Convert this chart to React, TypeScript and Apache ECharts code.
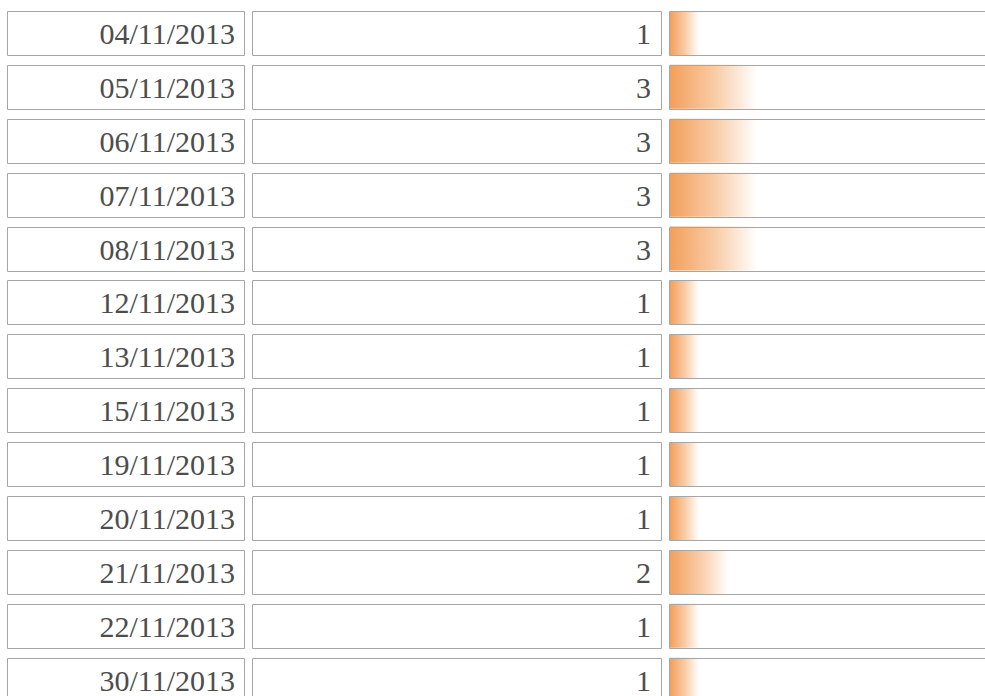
import React, { useEffect, useRef } from "react";
import * as echarts from "echarts";

const dates = [
  "04/11/2013",
  "05/11/2013",
  "06/11/2013",
  "07/11/2013",
  "08/11/2013",
  "12/11/2013",
  "13/11/2013",
  "15/11/2013",
  "19/11/2013",
  "20/11/2013",
  "21/11/2013",
  "22/11/2013",
  "30/11/2013",
];
const counts = [1, 3, 3, 3, 3, 1, 1, 1, 1, 1, 2, 1, 1];

const BORDER = "#a6a6a6";
const TEXT = "#4d4d4d";
const FONT = "'Liberation Serif', 'Times New Roman', serif";

export default function App() {
  const ref = useRef<HTMLDivElement>(null);
  useEffect(() => {
    if (!ref.current) return;
    const chart = echarts.init(ref.current, undefined, { renderer: "svg" });
    const option: any = {
      animation: false,
      backgroundColor: "#ffffff",
      grid: { left: 670, top: 6, width: 330, height: 700.7, containLabel: false },
      xAxis: { type: "value", min: 0, max: 11, show: false },
      yAxis: {
        type: "category",
        data: dates,
        inverse: true,
        show: false,
      },
      series: [
        {
          type: "bar",
          data: counts,
          barWidth: 44,
          z: 1,
          itemStyle: {
            color: {
              type: "linear",
              x: 0,
              y: 0,
              x2: 1,
              y2: 0,
              colorStops: [
                { offset: 0, color: "#f39f5a" },
                { offset: 0.5, color: "#f9cca6" },
                { offset: 0.97, color: "#ffffff" },
                { offset: 1, color: "#ffffff" },
              ],
            },
          },
        },
        {
          type: "custom",
          clip: false,
          z: 5,
          data: dates.map((d, i) => [0, i, d, counts[i]]),
          encode: { x: 0, y: 1 },
          renderItem: (params: any, api: any) => {
            const idx = params.dataIndex;
            const cy = api.coord([0, idx])[1];
            const top = Math.round(cy - 22) + 0.5;
            const h = 44;
            const mid = top + h / 2;
            const stroke = { stroke: BORDER, lineWidth: 1 };
            return {
              type: "group",
              children: [
                {
                  type: "rect",
                  shape: { x: 7.5, y: top, width: 237, height: h },
                  style: { fill: "#ffffff", ...stroke },
                },
                {
                  type: "rect",
                  shape: { x: 252.5, y: top, width: 409, height: h },
                  style: { fill: "#ffffff", ...stroke },
                },
                {
                  type: "rect",
                  shape: { x: 669.5, y: top, width: 340, height: h },
                  style: { fill: "none", ...stroke },
                },
                {
                  type: "text",
                  style: {
                    x: 235,
                    y: mid,
                    text: dates[idx],
                    align: "right",
                    verticalAlign: "middle",
                    fill: TEXT,
                    font: `30px ${FONT}`,
                  },
                },
                {
                  type: "text",
                  style: {
                    x: 651,
                    y: mid,
                    text: String(counts[idx]),
                    align: "right",
                    verticalAlign: "middle",
                    fill: TEXT,
                    font: `30px ${FONT}`,
                  },
                },
              ],
            };
          },
        },
      ],
    };
    chart.setOption(option);
    return () => chart.dispose();
  }, []);
  return (
    <div
      ref={ref}
      style={{ position: "fixed", left: 0, top: 0, width: 1010, height: 720 }}
    />
  );
}
